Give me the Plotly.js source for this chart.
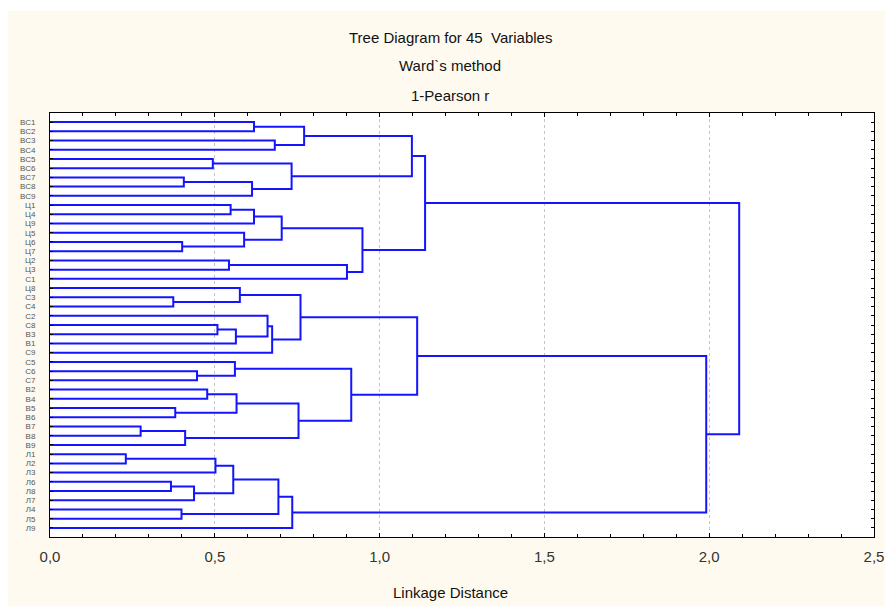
<!DOCTYPE html>
<html>
<head>
<meta charset="utf-8">
<script src="https://cdn.plot.ly/plotly-3.0.1.min.js"></script>
<style>
html,body{margin:0;padding:0;background:#ffffff;}
#bg{position:absolute;left:8px;top:11px;width:877px;height:595px;background:#fffaf0;}
#chart{position:absolute;left:0;top:0;width:885px;height:606px;}
</style>
</head>
<body>
<div id="bg"></div>
<div id="chart"></div>
<script>
// Leaf labels, top to bottom
const leafLabels = ["ВС1","ВС2","ВС3","ВС4","ВС5","ВС6","ВС7","ВС8","ВС9",
  "Ц1","Ц4","Ц9","Ц5","Ц6","Ц7","Ц2","Ц3","С1","Ц8","С3","С4","С2","С8",
  "В3","В1","С9","С5","С6","С7","В2","В4","В5","В6","В7","В8","В9",
  "Л1","Л2","Л3","Л6","Л8","Л7","Л4","Л5","Л9"];

// Merge steps: [child A, child B, linkage distance]; leaves are 0..44, merge k creates node 45+k
const mergeA = [0,2,45,4,6,49,48,47,9,53,13,12,54,15,58,57,52,19,18,22,64,21,66,63,27,26,29,31,71,33,74,73,70,68,36,79,39,81,80,42,83,85,78,61];
const mergeB = [1,3,46,5,7,8,50,51,10,11,14,55,56,16,17,59,60,20,62,23,24,65,25,67,28,69,30,32,72,34,35,75,76,77,37,38,40,41,82,43,84,44,86,87];
const mergeDist = [0.619,0.682,0.771,0.494,0.406,0.613,0.733,1.098,0.548,0.619,0.401,0.589,0.703,0.543,0.901,0.948,1.138,
  0.374,0.576,0.508,0.564,0.660,0.674,0.760,0.446,0.561,0.477,0.380,0.566,0.275,0.410,0.754,0.914,1.114,
  0.230,0.502,0.367,0.437,0.556,0.399,0.693,0.735,1.991,2.091];

const xTickVals = [0,0.5,1.0,1.5,2.0,2.5];

const n = leafLabels.length;
const pos = [], hgt = [];
for (let i = 0; i < n; i++) { pos.push(i); hgt.push(0); }
const xs = [], ys = [];
for (let k = 0; k < mergeA.length; k++) {
  const a = mergeA[k], b = mergeB[k], d = mergeDist[k];
  xs.push(hgt[a], d, d, hgt[b], null);
  ys.push(pos[a], pos[a], pos[b], pos[b], null);
  pos.push((pos[a] + pos[b]) / 2);
  hgt.push(d);
}

const trace = {
  type: 'scatter', mode: 'lines', x: xs, y: ys,
  line: {color: '#1414ff', width: 2}, hoverinfo: 'skip', showlegend: false
};

const titleFont = {family: 'Liberation Sans, Arial, sans-serif', size: 15, color: '#111'};
const layout = {
  width: 885, height: 606,
  margin: {l: 50, r: 11, t: 113, b: 69},
  paper_bgcolor: 'rgba(0,0,0,0)',
  plot_bgcolor: '#ffffff',
  separators: ', ',
  showlegend: false,
  xaxis: {
    range: [0, 2.5], tickvals: xTickVals, tickformat: '.1f',
    ticks: 'inside', ticklen: 4, tickcolor: '#000',
    minor: {dtick: 0.1, ticks: 'inside', ticklen: 3, tickcolor: '#000', showgrid: false},
    showline: true, linecolor: '#000', linewidth: 1, mirror: 'ticks',
    showgrid: true, gridcolor: '#c4c4c4', griddash: 'dot', gridwidth: 1,
    zeroline: false, ticklabelstandoff: 6,
    tickfont: {family: 'Liberation Sans, Arial, sans-serif', size: 15, color: '#333'}
  },
  yaxis: {
    range: [44.98, -0.98], tickvals: leafLabels.map((_, i) => i), ticktext: leafLabels,
    ticks: 'inside', ticklen: 3, tickcolor: '#000',
    showline: true, linecolor: '#000', linewidth: 1, mirror: 'ticks',
    showgrid: false, zeroline: false,
    ticklabelstandoff: 12,
    tickfont: {family: 'Liberation Sans, Arial, sans-serif', size: 8, color: '#555'}
  },
  annotations: [
    {text: 'Tree Diagram for 45  Variables', xref: 'paper', yref: 'paper', x: 0.486, y: 1.0, yshift: 76, showarrow: false, font: titleFont, xanchor: 'center', yanchor: 'middle'},
    {text: 'Ward`s method', xref: 'paper', yref: 'paper', x: 0.486, y: 1.0, yshift: 48, showarrow: false, font: titleFont, xanchor: 'center', yanchor: 'middle'},
    {text: '1-Pearson r', xref: 'paper', yref: 'paper', x: 0.486, y: 1.0, yshift: 18, showarrow: false, font: titleFont, xanchor: 'center', yanchor: 'middle'},
    {text: 'Linkage Distance', xref: 'paper', yref: 'paper', x: 0.486, y: 0, yshift: -55, showarrow: false, font: titleFont, xanchor: 'center', yanchor: 'middle'}
  ]
};

Plotly.newPlot('chart', [trace], layout, {staticPlot: true, displayModeBar: false});
</script>
</body>
</html>
